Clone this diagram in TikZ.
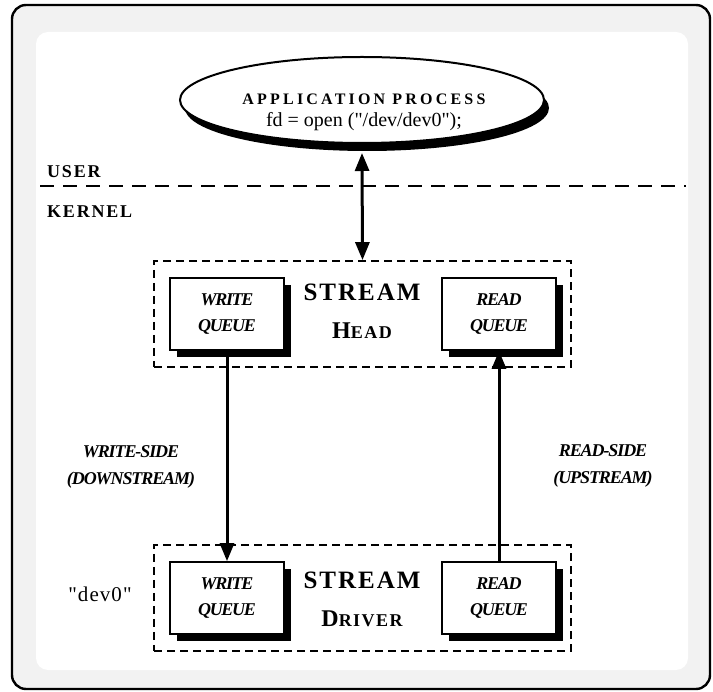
\documentclass[tikz,border=0pt]{standalone}
\usepackage{fontspec}
\setmainfont{Liberation Serif}[Ligatures=TeXOff]
\usepackage{tikz}
\usetikzlibrary{positioning, arrows.meta, shapes.geometric, shadows}

\definecolor{framegray}{HTML}{F2F2F2}

\begin{document}
\begin{tikzpicture}[
    x=1pt, y=-1pt,
    frame/.style={draw, line width=2.4pt, rounded corners=14pt, fill=framegray},
    sheet/.style={fill=white, rounded corners=12pt},
    appell/.style={ellipse, draw, line width=2pt, fill=white, minimum width=364, minimum height=86,
        drop shadow={shadow xshift=5pt, shadow yshift=-8pt, opacity=1, fill=black}},
    layer/.style={anchor=west, inner sep=0pt, font=\bfseries\fontsize{18}{20}\selectfont\addfontfeature{LetterSpace=10}},
    grp/.style={draw, dash pattern=on 8pt off 5pt, line width=1.8pt, minimum width=417, minimum height=106},
    queue/.style={draw, line width=1.6pt, fill=white, minimum width=114, minimum height=72, align=center,
        font=\bfseries\itshape\fontsize{18}{26}\selectfont\addfontfeature{LetterSpace=-7},
        drop shadow={shadow xshift=7pt, shadow yshift=-7pt, opacity=1, fill=black}},
    title/.style={align=center, inner sep=0pt, font=\bfseries\fontsize{25}{38}\selectfont\addfontfeature{LetterSpace=8}},
    side/.style={align=center, inner sep=0pt, font=\bfseries\itshape\fontsize{18}{27}\selectfont\addfontfeature{LetterSpace=-6}},
    arrow/.style={-{Triangle[length=18pt, width=14pt]}, line width=3pt},
    dblarrow/.style={{Triangle[length=18pt, width=14pt]}-{Triangle[length=18pt, width=14pt]}, line width=3pt}
]
\useasboundingbox (0,0) rectangle (713,692);
\draw[frame] (12,5) rectangle (710,689);
\fill[sheet] (36,32) rectangle (688,670);

% user space
\node[appell] (app) at (362,100) {};
\node[align=center, inner sep=0pt, font=\fontsize{20}{22}\selectfont] (applbl) at (364,112)
    {{\bfseries\fontsize{16}{22}\selectfont\addfontfeature{LetterSpace=20}APPLICATION PROCESS}\\
     fd = open ("/dev/dev0");};
\node[layer] (user) at (47,172) {USER};
\coordinate (sepL) at (40,186);
\coordinate (sepR) at (686,186);
\draw[dash pattern=on 14pt off 9pt, line width=1.4pt] (sepL) -- (sepR);
\node[layer] (kernel) at (47,212) {KERNEL};

% stream head
\node[grp] (headgrp) at (362.5,314) {};
\node[queue] (hwrite) at (227,314) {WRITE\\QUEUE};
\node[queue] (hread) at (499,314) {READ\\QUEUE};
\node[title] (streamhead) at (362,311)
    {STREAM\\{\fontsize{24}{38}\selectfont H\fontsize{18}{38}\selectfont EAD}};

% driver
\node[grp] (drvgrp) at (362.5,598) {};
\node[queue] (dwrite) at (227,598) {WRITE\\QUEUE};
\node[queue] (dread) at (499,598) {READ\\QUEUE};
\node[title] (streamdrv) at (362,599)
    {STREAM\\{\fontsize{24}{38}\selectfont D\fontsize{18}{38}\selectfont RIVER}};
\node[inner sep=0pt, font=\fontsize{21}{24}\selectfont\addfontfeature{LetterSpace=5}] (devlbl) at (100,594) {"dev0"};

% flow labels
\node[side] (wside) at (131,467) {WRITE-SIDE\\(DOWNSTREAM)};
\node[side] (rside) at (603,466) {READ-SIDE\\(UPSTREAM)};

\draw[dblarrow] ([yshift=-9pt]app.south) -- (headgrp.north);
\draw[arrow] (hwrite.south) -- (dwrite.north);
\draw[arrow] (dread.north) -- (hread.south);
\end{tikzpicture}
\end{document}
